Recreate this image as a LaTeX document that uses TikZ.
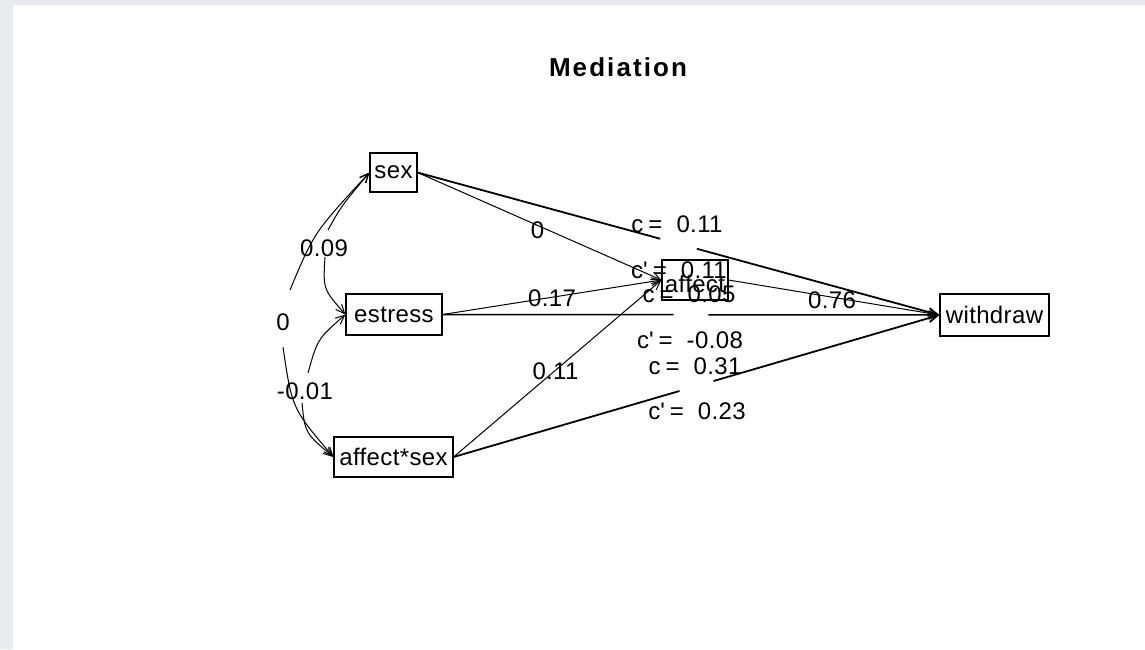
\documentclass[tikz,border=0pt]{standalone}
\usepackage{fontspec}
\setmainfont{Liberation Sans}[LetterSpace=1.5]
\newfontfamily\titlefont{Liberation Sans}[LetterSpace=8]
\usetikzlibrary{arrows.meta,calc}
\definecolor{bggray}{RGB}{233,234,238}
\begin{document}
\begin{tikzpicture}[x=1pt,y=-1pt,
  >={Straight Barb[length=9pt,width=8pt]},
  box/.style={draw, line width=1.1pt, inner sep=0pt, font=\fontsize{24}{28}\selectfont},
  lbl/.style={inner sep=0pt, font=\fontsize{24}{28}\selectfont},
  thinline/.style={line width=1pt},
  directline/.style={line width=1.8pt}]
\fill[bggray] (0,0) rectangle (1145,649);
\fill[white] (13,5) rectangle (1145,649);
\useasboundingbox (0,0) rectangle (1145,649);

\node[inner sep=0pt, font=\titlefont\bfseries\fontsize{26}{30}\selectfont] (title) at (618,67) {Mediation};

% boxes
\node[box, minimum width=47pt, minimum height=39pt] (sex) at (393.5,172.5) {sex};
\node[box, minimum width=96pt, minimum height=41pt] (estress) at (394,314.5) {estress};
\node[box, minimum width=119pt, minimum height=40pt] (affsex) at (393.5,457) {affect*sex};
\node[box, minimum width=66pt, minimum height=40pt] (affect) at (695,280) {\raisebox{-4pt}[\height][\depth]{affect}};
\node[box, minimum width=109pt, minimum height=42pt] (wd) at (994.5,315) {withdraw};

% a paths to mediator
\draw[thinline,->] (sex.east) -- (affect.west) node[lbl,pos=0.5,xshift=-2pt,yshift=-4pt] (l1) {0};
\draw[thinline,->] (estress.east) -- (affect.west) node[lbl,pos=0.5,yshift=-1pt] (l2) {0.17};
\draw[thinline,->] (affsex.east) -- (affect.west) node[lbl,pos=0.5,xshift=-2pt,yshift=-3pt] (l3) {0.11};
\draw[thinline,->] (affect.east) -- (wd.west) node[lbl,pos=0.5,xshift=-2pt,yshift=-3pt] (l4) {0.76};

% direct paths with gaps
\coordinate (s1) at ($(sex.east)!0.465!(wd.west)$);
\coordinate (s2) at ($(sex.east)!0.535!(wd.west)$);
\coordinate (e1) at ($(estress.east)!0.465!(wd.west)$);
\coordinate (e2) at ($(estress.east)!0.535!(wd.west)$);
\coordinate (x1) at ($(affsex.east)!0.465!(wd.west)$);
\coordinate (x2) at ($(affsex.east)!0.535!(wd.west)$);
\draw[directline] (sex.east) -- (s1);
\draw[directline,->] (s2) -- (wd.west);
\draw[line width=1.5pt] (estress.east) -- (e1);
\draw[line width=1.5pt,->] (e2) -- (wd.west);
\draw[directline] (affsex.east) -- (x1);
\draw[directline,->] (x2) -- (wd.west);

% c / c' labels
\node[lbl] (c1) at (677,224) {c\kern5pt= \ 0.11};
\node[lbl] (cp1) at (679,270) {c\textquotesingle\kern5pt= \ 0.11};
\node[lbl] (c2) at (689,294) {c\kern5pt= \ 0.05};
\node[lbl] (cp2) at (690,340) {c\textquotesingle\kern5pt= \ -0.08};
\node[lbl] (c3) at (695,366) {c\kern5pt= \ 0.31};
\node[lbl] (cp3) at (697,411) {c\textquotesingle\kern5pt= \ 0.23};

% correlation curves (drawn in two pieces around their labels)
\coordinate (a1) at (328,230);
\coordinate (a2) at (325,257);
\draw[thinline,->] (a1) .. controls (341,206.5) .. (sex.west);
\draw[thinline,->] (a2) .. controls (323,289) .. (estress.west);
\node[lbl] (r1) at (324,248) {0.09};

\coordinate (b1) at (308,373);
\coordinate (b2) at (302,403);
\draw[thinline,->] (b1) .. controls (317.5,339) .. (estress.west);
\draw[thinline,->] (b2) .. controls (305,433) .. (affsex.west);
\node[lbl] (r3) at (305,391) {-0.01};

\coordinate (o1) at (290,290);
\coordinate (o2) at (283,347);
\draw[thinline,->] (o1) .. controls (314,232.5) .. (sex.west);
\draw[thinline,->] (o2) .. controls (292,408.5) .. (affsex.west);
\node[lbl] (r2) at (283,322) {0};
\end{tikzpicture}
\end{document}
